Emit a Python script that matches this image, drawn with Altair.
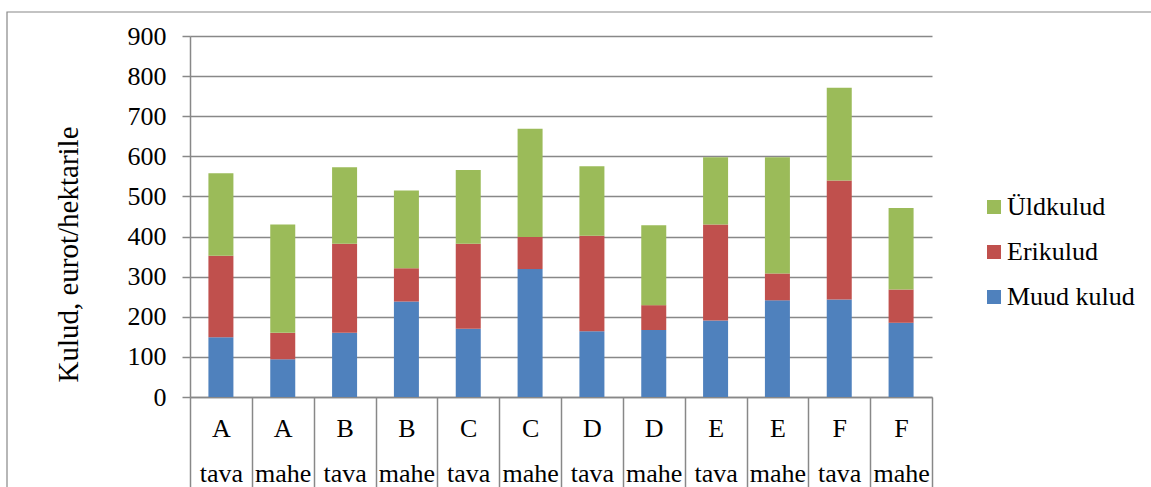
import altair as alt
import pandas as pd

# Farm groups and production systems (conventional "tava" / organic "mahe")
categories = ["A", "A", "B", "B", "C", "C", "D", "D", "E", "E", "F", "F"]
systems = ["tava", "mahe"] * 6

# Cost components, euros per hectare
muud_kulud = [149, 94, 160, 238, 170, 319, 164, 167, 191, 241, 243, 185]
erikulud = [203, 66, 222, 83, 212, 80, 238, 62, 239, 67, 297, 83]
uldkulud = [206, 270, 191, 194, 184, 270, 173, 199, 168, 290, 231, 203]

series_names = ["Üldkulud", "Erikulud", "Muud kulud"]
series_colors = ["#9BBB59", "#C0504D", "#4F81BD"]
stack_rank = {"Muud kulud": 0, "Erikulud": 1, "Üldkulud": 2}
y_ticks = list(range(0, 901, 100))

FONT = "Liberation Serif"
GRID = "#888888"

keys = [f"{c}|{s}" for c, s in zip(categories, systems)]
rows = []
for i, key in enumerate(keys):
    for name, vals in (("Muud kulud", muud_kulud), ("Erikulud", erikulud), ("Üldkulud", uldkulud)):
        rows.append({"key": key, "series": name, "value": vals[i], "rank": stack_rank[name]})
df = pd.DataFrame(rows)

bars = alt.Chart(df).mark_bar(size=25).encode(
    x=alt.X(
        "key:N",
        sort=keys,
        scale=alt.Scale(paddingInner=0, paddingOuter=0),
        axis=alt.Axis(
            title=None,
            labelExpr="split(datum.label, '|')",
            labelAngle=0,
            labelFont=FONT,
            labelFontSize=26,
            labelColor="black",
            labelLineHeight=45,
            labelBaseline="alphabetic",
            labelPadding=-51,
            ticks=True,
            tickBand="extent",
            tickSize=90,
            tickColor=GRID,
            tickWidth=1.5,
            domainColor=GRID,
            domainWidth=1.5,
            grid=False,
        ),
    ),
    y=alt.Y(
        "value:Q",
        stack="zero",
        scale=alt.Scale(domain=[0, 900], nice=False),
        axis=alt.Axis(
            values=y_ticks,
            title="Kulud, eurot/hektarile",
            titleFont=FONT,
            titleFontSize=29,
            titleFontWeight="normal",
            titleColor="black",
            titleAngle=270,
            titleBaseline="alphabetic",
            titleAlign="center",
            titleX=-113,
            titleY=218,
            labelFont=FONT,
            labelFontSize=26,
            labelColor="black",
            labelPadding=16,
            tickSize=8,
            tickColor=GRID,
            tickWidth=1.5,
            gridColor=GRID,
            gridWidth=1.5,
            domainColor=GRID,
            domainWidth=1.5,
        ),
    ),
    color=alt.Color(
        "series:N",
        scale=alt.Scale(domain=series_names, range=series_colors),
        legend=alt.Legend(
            title=None,
            orient="none",
            legendX=791,
            legendY=158,
            symbolType="square",
            symbolSize=196,
            symbolStrokeWidth=0,
            labelFont=FONT,
            labelFontSize=26,
            labelColor="black",
            labelOffset=0,
            labelLimit=300,
            rowPadding=19,
            padding=0,
        ),
    ),
    order=alt.Order("rank:Q", sort="ascending"),
)

# Outer frame around the chart area
frame = alt.Chart(alt.Data(values=[{"f": 1}])).mark_rect(
    fill=None, stroke=GRID, strokeWidth=1.2
).encode(
    x=alt.value(-183),
    x2=alt.value(985),
    y=alt.value(-24),
    y2=alt.value(480),
)

chart = alt.layer(frame, bars).properties(
    width=742,
    height=361,
    autosize=alt.AutoSizeParams(type="none"),
    padding={"left": 190, "top": 36, "right": 219, "bottom": 90},
    background="white",
).configure(font=FONT).configure_view(stroke=None)

chart.save("out.html", embed_options={"renderer": "svg", "actions": False})
